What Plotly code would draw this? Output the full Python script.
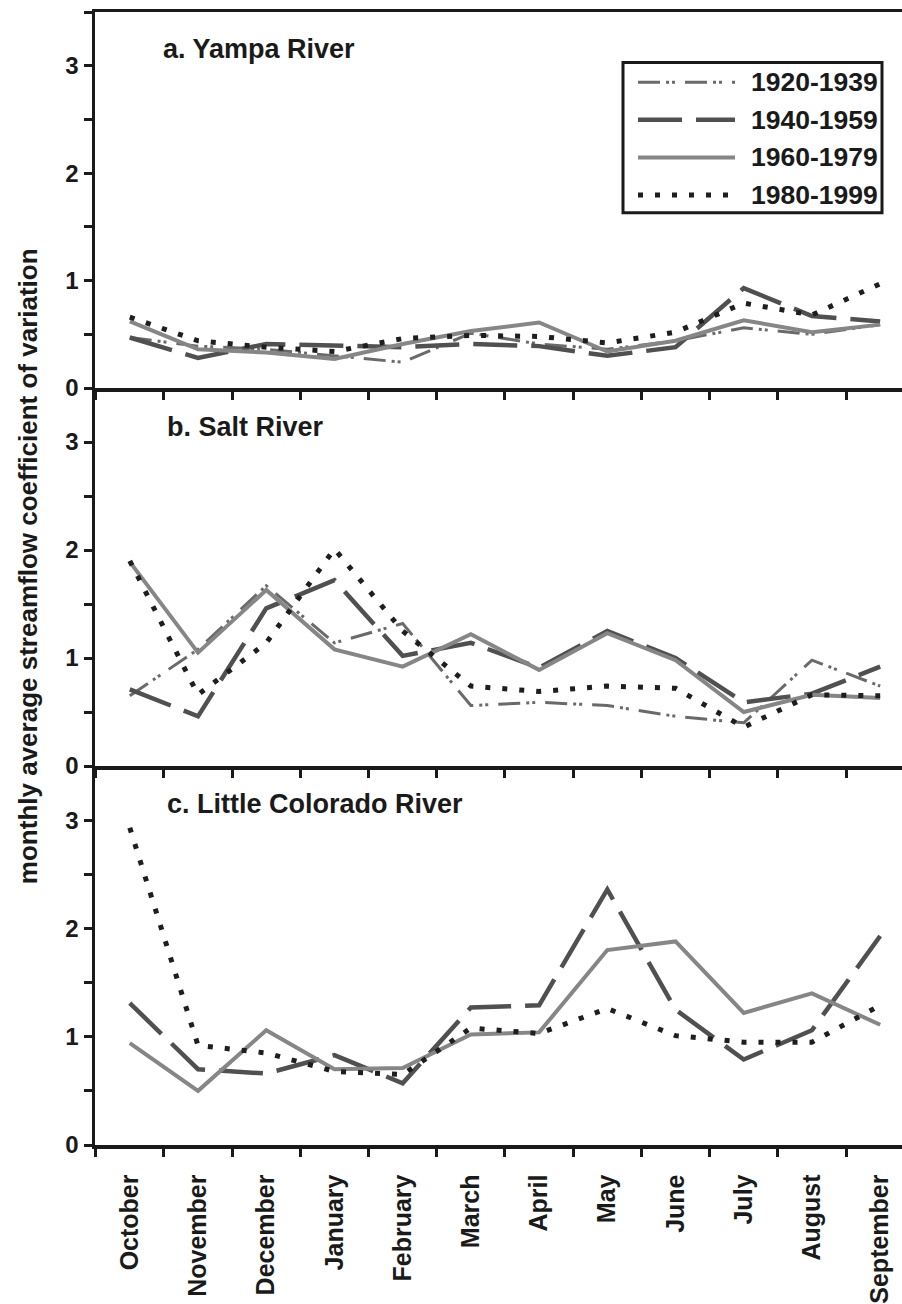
import plotly.graph_objects as go

# ---------------- data ----------------
months = ["October", "November", "December", "January", "February", "March",
          "April", "May", "June", "July", "August", "September"]
periods = ["1920-1939", "1940-1959", "1960-1979", "1980-1999"]
panel_titles = ["a. Yampa River", "b. Salt River", "c. Little Colorado River"]
y_ticks = [0, 1, 2, 3]

yampa_1920 = [0.47, 0.39, 0.36, 0.30, 0.24, 0.51, 0.41, 0.36, 0.44, 0.56, 0.50, 0.59]
yampa_1940 = [0.47, 0.28, 0.41, 0.39, 0.38, 0.41, 0.39, 0.30, 0.38, 0.93, 0.67, 0.62]
yampa_1960 = [0.62, 0.36, 0.33, 0.27, 0.41, 0.53, 0.61, 0.34, 0.44, 0.63, 0.52, 0.59]
yampa_1980 = [0.66, 0.44, 0.38, 0.34, 0.46, 0.49, 0.48, 0.42, 0.52, 0.79, 0.68, 0.97]

salt_1920 = [0.65, 1.08, 1.67, 1.14, 1.32, 0.56, 0.59, 0.56, 0.46, 0.40, 0.98, 0.74]
salt_1940 = [0.71, 0.46, 1.46, 1.72, 1.02, 1.14, 0.91, 1.25, 1.00, 0.59, 0.67, 0.92]
salt_1960 = [1.89, 1.05, 1.63, 1.08, 0.92, 1.22, 0.89, 1.23, 0.98, 0.50, 0.66, 0.63]
salt_1980 = [1.90, 0.66, 1.14, 2.01, 1.25, 0.74, 0.69, 0.74, 0.72, 0.36, 0.66, 0.65]

lcr_1940 = [1.31, 0.70, 0.66, 0.83, 0.57, 1.27, 1.29, 2.36, 1.25, 0.79, 1.06, 1.93]
lcr_1960 = [0.94, 0.50, 1.06, 0.70, 0.71, 1.02, 1.04, 1.80, 1.88, 1.22, 1.40, 1.11]
lcr_1980 = [2.93, 0.92, 0.85, 0.68, 0.65, 1.08, 1.03, 1.26, 1.01, 0.95, 0.95, 1.29]

panels = [
    {"1920-1939": yampa_1920, "1940-1959": yampa_1940, "1960-1979": yampa_1960, "1980-1999": yampa_1980},
    {"1920-1939": salt_1920, "1940-1959": salt_1940, "1960-1979": salt_1960, "1980-1999": salt_1980},
    {"1940-1959": lcr_1940, "1960-1979": lcr_1960, "1980-1999": lcr_1980},
]

# ---------------- styles ----------------
W, H = 902, 1304
ML, MR, MT, MB = 95, 0, 12, 147
PW, PH = W - ML - MR, H - MT - MB
FONT = "Liberation Sans, Arial, sans-serif"
INK = "#1a1a1a"

styles = {
    "1920-1939": dict(color="#6a6a6a", width=3.0, dash="22px,6px,3px,3px,3px,10px"),
    "1940-1959": dict(color="#505050", width=4.5, dash="44px,14px"),
    "1960-1979": dict(color="#868686", width=4.0, dash="solid"),
    "1980-1999": dict(color="#1e1e1e", width=5.0, dash="5px,12px"),
}


def px_x(p):
    return (p - ML) / PW


def px_y(p):
    return (H - MB - p) / PH


# panel pixel bounds (top, bottom)
bounds = [(12, 392), (392, 774), (774, 1157)]
domains = [[px_y(b), px_y(t)] for t, b in bounds]

fig = go.Figure()
xs = list(range(len(months)))
for i, pdata in enumerate(panels):
    suffix = "" if i == 0 else str(i + 1)
    for per in periods:
        if per not in pdata:
            continue
        st = styles[per]
        fig.add_trace(go.Scatter(
            x=xs, y=pdata[per], mode="lines", name=per, showlegend=False,
            line=dict(color=st["color"], width=st["width"], dash=st["dash"]),
            xaxis="x" + suffix, yaxis="y" + suffix, hoverinfo="skip"))

layout = dict(
    width=W, height=H,
    margin=dict(l=ML, r=MR, t=MT, b=MB),
    paper_bgcolor="white", plot_bgcolor="white",
    font=dict(family=FONT, size=25, color=INK, weight="bold"),
    showlegend=False,
)

for i in range(3):
    suffix = "" if i == 0 else str(i + 1)
    ykey = "y" + suffix
    xkey = "x" + suffix
    layout["xaxis" + suffix] = dict(
        domain=[0, 1], anchor=ykey, range=[-0.51, 11.32],
        showline=True, linewidth=3.5, linecolor=INK, mirror=(i == 0),
        showgrid=False, zeroline=False,
        tickmode="array", tickvals=xs, ticktext=months,
        ticks="outside", ticklen=0, tickcolor=INK,
        showticklabels=(i == 2), tickangle=-90,
        tickfont=dict(family=FONT, size=25, color=INK, weight="bold"),
        ticklabelstandoff=16,
        minor=dict(tick0=0.5, dtick=1, ticks="outside", ticklen=8, tickwidth=3, tickcolor=INK),
        fixedrange=True,
    )
    layout["yaxis" + suffix] = dict(
        domain=domains[i], anchor=xkey, range=[0, 3.5],
        showline=True, linewidth=3.5, linecolor=INK,
        showgrid=False, zeroline=False,
        tickmode="array", tickvals=y_ticks, ticktext=[str(v) for v in y_ticks],
        ticks="outside", ticklen=8, tickwidth=3, tickcolor=INK,
        tickfont=dict(family=FONT, size=24, color=INK, weight="bold"),
        ticklabelstandoff=0,
        minor=dict(tick0=0, dtick=0.5, ticks="outside", ticklen=8, tickwidth=3, tickcolor=INK),
        fixedrange=True,
    )
    # overlay axis for inside half of crossing major ticks
    layout["yaxis" + str(i + 4)] = dict(
        domain=domains[i], anchor=xkey, overlaying=ykey, range=[0, 3.5],
        showline=False, showgrid=False, zeroline=False,
        tickmode="array", tickvals=y_ticks, showticklabels=False,
        ticks="inside", ticklen=8, tickwidth=3, tickcolor=INK, fixedrange=True,
    )

fig.update_layout(**layout)

annotations = []
shapes = []
# panel titles
title_pos = [(161, 49), (165, 431), (165, 812)]
for (tx, ty), txt in zip(title_pos, panel_titles):
    annotations.append(dict(text=txt, xref="paper", yref="paper", x=px_x(tx), y=px_y(ty),
                            xanchor="left", yanchor="middle", showarrow=False,
                            font=dict(family=FONT, size=27, color=INK, weight="bold")))
# y axis title
annotations.append(dict(text="monthly average streamflow coefficient of variation",
                        xref="paper", yref="paper", x=px_x(28), y=px_y(572),
                        xanchor="center", yanchor="middle", textangle=-90, showarrow=False,
                        font=dict(family=FONT, size=26, color=INK, weight="bold")))

# custom legend (box, line samples, labels)
shapes.append(dict(type="rect", xref="paper", yref="paper",
                   x0=px_x(623), x1=px_x(882), y0=px_y(63), y1=px_y(215),
                   line=dict(color=INK, width=3), fillcolor="white", layer="above"))
rows = [83, 121, 159, 197]
for per, ry in zip(periods, rows):
    st = styles[per]
    shapes.append(dict(type="line", xref="paper", yref="paper",
                       x0=px_x(638), x1=px_x(735), y0=px_y(ry), y1=px_y(ry),
                       line=dict(color=st["color"], width=st["width"], dash=st["dash"]),
                       layer="above"))
    annotations.append(dict(text=per, xref="paper", yref="paper", x=px_x(749), y=px_y(ry),
                            xanchor="left", yanchor="middle", showarrow=False,
                            font=dict(family=FONT, size=26.5, color=INK, weight="bold")))

fig.update_layout(annotations=annotations, shapes=shapes)
fig.write_html(
    "out.html",
    config={"displayModeBar": False, "staticPlot": True},
    post_script="document.body.style.margin='0';document.body.style.overflow='hidden';",
)
